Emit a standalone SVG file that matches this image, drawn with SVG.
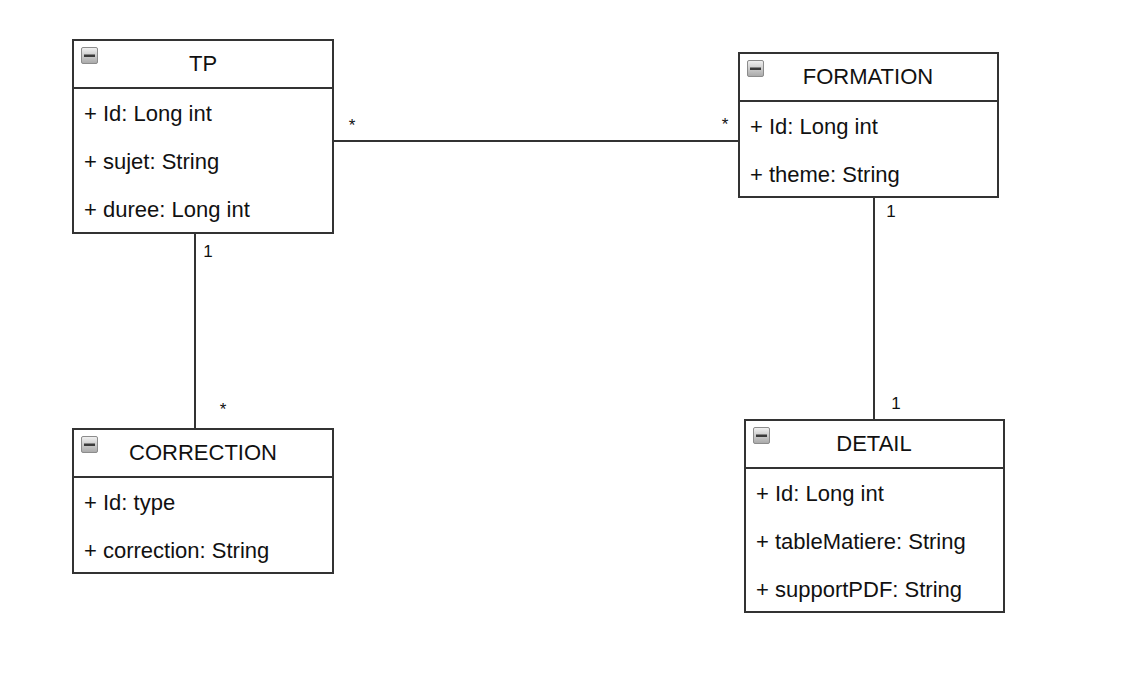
<svg xmlns="http://www.w3.org/2000/svg" width="1130" height="676" viewBox="0 0 1130 676">
<defs>
<linearGradient id="ig" x1="0" y1="0" x2="0" y2="1">
<stop offset="0" stop-color="#f2f2f2"/>
<stop offset="1" stop-color="#a8a8a8"/>
</linearGradient>
<g id="icon">
<rect x="0.5" y="0.5" width="16" height="16" rx="1.5" fill="url(#ig)" stroke="#8c8c8c" stroke-width="1"/>
<rect x="3" y="7.5" width="11" height="2.5" fill="#3a3a3a"/>
</g>
</defs>
<style>
.box{fill:#fff;stroke:#333;stroke-width:2}
.div{stroke:#333;stroke-width:2}
.title{font-family:"Liberation Sans",Arial,sans-serif;font-size:22px;fill:#111;text-anchor:middle}
.attr{font-family:"Liberation Sans",Arial,sans-serif;font-size:22px;fill:#111}
.conn{stroke:#333;stroke-width:2;fill:none}
.mult{font-family:"Liberation Sans",Arial,sans-serif;font-size:17px;fill:#111}
</style>
<rect width="1130" height="676" fill="#fff"/>
<g id="connectors">
<line class="conn" x1="333" y1="141" x2="739" y2="141"/>
<line class="conn" x1="195" y1="233" x2="195" y2="429"/>
<line class="conn" x1="874" y1="197" x2="874" y2="420"/>
<text class="mult" x="352" y="131" text-anchor="middle">*</text>
<text class="mult" x="725" y="130" text-anchor="middle">*</text>
<text class="mult" x="208" y="257" text-anchor="middle">1</text>
<text class="mult" x="223" y="415" text-anchor="middle">*</text>
<text class="mult" x="891" y="217" text-anchor="middle">1</text>
<text class="mult" x="896" y="409" text-anchor="middle">1</text>
</g>
<g id="TP">
<rect class="box" x="73" y="40" width="260" height="193"/>
<line class="div" x1="73" y1="88" x2="333" y2="88"/>
<use href="#icon" x="81" y="47"/>
<text class="title" x="203" y="71">TP</text>
<text class="attr" x="84" y="121">+ Id: Long int</text>
<text class="attr" x="84" y="169">+ sujet: String</text>
<text class="attr" x="84" y="217">+ duree: Long int</text>
</g>
<g id="FORMATION">
<rect class="box" x="739" y="53" width="259" height="144"/>
<line class="div" x1="739" y1="101" x2="998" y2="101"/>
<use href="#icon" x="747" y="60"/>
<text class="title" x="868" y="84">FORMATION</text>
<text class="attr" x="750" y="134">+ Id: Long int</text>
<text class="attr" x="750" y="182">+ theme: String</text>
</g>
<g id="CORRECTION">
<rect class="box" x="73" y="429" width="260" height="144"/>
<line class="div" x1="73" y1="477" x2="333" y2="477"/>
<use href="#icon" x="81" y="436"/>
<text class="title" x="203" y="460">CORRECTION</text>
<text class="attr" x="84" y="510">+ Id: type</text>
<text class="attr" x="84" y="558">+ correction: String</text>
</g>
<g id="DETAIL">
<rect class="box" x="745" y="420" width="259" height="192"/>
<line class="div" x1="745" y1="468" x2="1004" y2="468"/>
<use href="#icon" x="753" y="427"/>
<text class="title" x="874" y="451">DETAIL</text>
<text class="attr" x="756" y="501">+ Id: Long int</text>
<text class="attr" x="756" y="549">+ tableMatiere: String</text>
<text class="attr" x="756" y="597">+ supportPDF: String</text>
</g>
</svg>
